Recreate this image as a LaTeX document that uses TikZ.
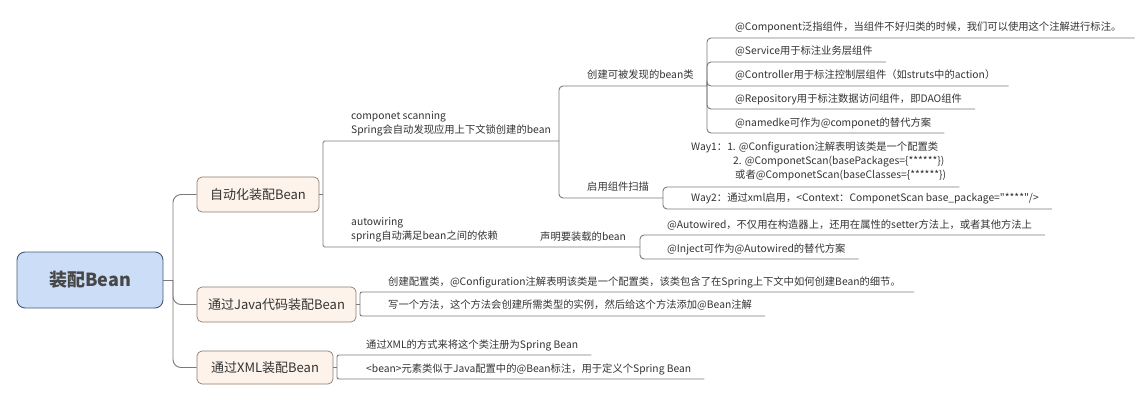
\documentclass[tikz,border=0pt]{standalone}
\usepackage{fontspec}
\newfontfamily\nf{Noto Sans CJK SC}
\usetikzlibrary{calc}
\definecolor{txt}{HTML}{333333}
\definecolor{ln}{HTML}{7A7A7A}
\definecolor{rootfill}{HTML}{CCDDF8}
\definecolor{rootdraw}{HTML}{435A78}
\definecolor{boxfill}{HTML}{FDF3EA}
\definecolor{boxdraw}{HTML}{8C7B6E}
\begin{document}
\begin{tikzpicture}[x=1pt,y=-1pt,
  conn/.style={draw=ln, line width=0.9pt, rounded corners=4pt},
  topic/.style={anchor=west, inner sep=0pt, text=txt, font=\nf\fontsize{10.3}{14}\selectfont, align=left},
  rootbox/.style={draw=rootdraw, fill=rootfill, rounded corners=8pt, line width=0.9pt, minimum width=146pt, minimum height=56pt, text=txt!90, font=\nf\fontsize{18}{20}\selectfont\bfseries},
  subbox/.style={draw=boxdraw, fill=boxfill, rounded corners=5pt, line width=0.7pt, minimum height=35pt, text=txt, font=\nf\fontsize{13}{15}\selectfont, inner sep=0pt}]
\useasboundingbox (0,0) rectangle (1136,401);

% main nodes
\node[rootbox] (root) at (90,280) {装配Bean};
\node[subbox, minimum width=122pt] (auto) at (258,194.5) {自动化装配Bean};
\node[subbox, minimum width=159pt] (java) at (276.5,304.5) {通过Java代码装配Bean};
\node[subbox, minimum width=136pt, minimum height=33pt] (xml) at (265,367.5) {通过XML装配Bean};

% topics
\node[topic] (cs) at (351,124) {componet scanning\\Spring会自动发现应用上下文锁创建的bean};
\node[topic] (aw) at (351,230) {autowiring\\spring自动满足bean之间的依赖};
\node[topic] (bean) at (587,75) {创建可被发现的bean类};
\node[topic] (en) at (587,187) {启用组件扫描};
\node[topic] (decl) at (540,237) {声明要装载的bean};
\node[topic] (c1) at (735,27) {@Component泛指组件，当组件不好归类的时候，我们可以使用这个注解进行标注。};
\node[topic] (c2) at (735,51) {@Service用于标注业务层组件};
\node[topic] (c3) at (735,75) {@Controller用于标注控制层组件（如struts中的action）};
\node[topic] (c4) at (735,99) {@Repository用于标注数据访问组件，即DAO组件};
\node[topic] (c5) at (735,123) {@namedke可作为@componet的替代方案};
\node[topic] (w1) at (691,161) {Way1：1. @Configuration注解表明该类是一个配置类\\\hspace*{42pt}2. @ComponetScan(basePackages=\{******\})\\\hspace*{44pt}或者@ComponetScan(baseClasses=\{******\})};
\node[topic] (w2) at (691,198) {Way2：通过xml启用，<Context：ComponetScan base\_package="****"/>};
\node[topic] (a1) at (667,225) {@Autowired，不仅用在构造器上，还用在属性的setter方法上，或者其他方法上};
\node[topic] (a2) at (667,249) {@Inject可作为@Autowired的替代方案};
\node[topic] (j1) at (388,282) {创建配置类，@Configuration注解表明该类是一个配置类，该类包含了在Spring上下文中如何创建Bean的细节。};
\node[topic] (j2) at (388,305) {写一个方法，这个方法会创建所需类型的实例，然后给这个方法添加@Bean注解};
\node[topic] (x1) at (366,345) {通过XML的方式来将这个类注册为Spring Bean};
\node[topic] (x2) at (366,369) {<bean>元素类似于Java配置中的@Bean标注，用于定义个Spring Bean};

% junction coordinates
\coordinate (rootJ) at (173,280);
\coordinate (autoJ) at (323,194.5);
\coordinate (csE) at (559,141);
\coordinate (awE) at (530,247);
\coordinate (beanE) at (707,86);
\coordinate (enE) at (663,198);
\coordinate (declE) at (640,247);
\coordinate (javaJ) at (360,304.5);
\coordinate (xmlJ) at (337,367.5);
\coordinate (c1E) at ($(c1.east)+(13,11)$);
\coordinate (c2E) at ($(c2.east)+(13,11)$);
\coordinate (c3E) at ($(c3.east)+(13,11)$);
\coordinate (c4E) at ($(c4.east)+(13,10)$);
\coordinate (c5E) at ($(c5.east)+(13,10)$);
\coordinate (w1E) at ($(w1.east)+(13,26)$);
\coordinate (w2E) at ($(w2.east)+(13,11)$);
\coordinate (a1E) at ($(a1.east)+(13,10)$);
\coordinate (a2E) at ($(a2.east)+(13,10)$);
\coordinate (j1E) at ($(j1.east)+(13,10)$);
\coordinate (j2E) at ($(j2.east)+(13,11)$);
\coordinate (x1E) at ($(x1.east)+(13,10)$);
\coordinate (x2E) at ($(x2.east)+(13,10)$);

% connectors
\draw[conn] (root.east) -- (rootJ);
\foreach \c in {auto,java,xml} \draw[conn, rounded corners=8pt] (rootJ) |- (\c.west);

\draw[conn] (auto.east) -- (autoJ);
\draw[conn, rounded corners=1.5pt] (autoJ) |- (csE);
\draw[conn, rounded corners=1.5pt] (autoJ) |- (awE) -- (declE);

\draw[conn] (csE) |- (beanE);
\draw[conn] (csE) |- (enE);

\foreach \c in {c1E,c2E,c3E,c4E,c5E} \draw[conn] (beanE) |- (\c);
\foreach \c in {w1E,w2E} \draw[conn] (enE) |- (\c);
\foreach \c in {a1E,a2E} \draw[conn] (declE) |- (\c);

\draw[conn] (java.east) -- (javaJ);
\foreach \c in {j1E,j2E} \draw[conn, rounded corners=2pt] (javaJ) |- (\c);
\draw[conn] (xml.east) -- (xmlJ);
\foreach \c in {x1E,x2E} \draw[conn, rounded corners=2pt] (xmlJ) |- (\c);
\end{tikzpicture}
\end{document}
